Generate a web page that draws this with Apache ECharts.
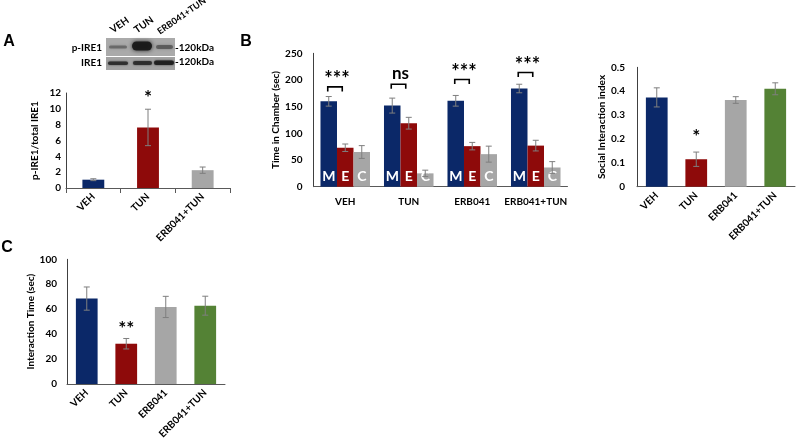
<!DOCTYPE html>
<html><head><meta charset="utf-8">
<script src="https://cdn.jsdelivr.net/npm/echarts@6/dist/echarts.min.js"></script>
<style>html,body{margin:0;padding:0;background:#fff}#c{width:800px;height:445px}</style>
</head><body><div id="c"></div>
<script>
// ---- Data ----
const blotLanes = ['VEH', 'TUN', 'ERB041+TUN'];
const blotRows = ['p-IRE1', 'IRE1'];
const blotSize = '120kDa';

const aCategories = ['VEH', 'TUN', 'ERB041+TUN'];
const aValues = [1.05, 7.65, 2.25];
const aErrors = [0.12, 2.3, 0.4];
const aStarY = [null, 11.4, null];
const aStars = ['', '*', ''];
const aTicks = [0, 2, 4, 6, 8, 10, 12];

const bCategories = ['VEH', 'TUN', 'ERB041', 'ERB041+TUN'];
const bM = [160, 152, 161, 184];
const bMErr = [9, 14, 10, 8];
const bE = [73, 119, 76, 77];
const bEErr = [7, 11, 7, 10];
const bC = [65, 25, 61, 36];
const bCErr = [12, 6, 15, 11];
const bBarLabels = ['M', 'E', 'C'];
const bSig = ['***', 'ns', '***', '***'];
const bBracketY = [187, 192, 201, 214];
const bSigY = [201, 212, 214, 227];

const sCategories = ['VEH', 'TUN', 'ERB041', 'ERB041+TUN'];
const sValues = [0.374, 0.115, 0.363, 0.41];
const sErrors = [0.04, 0.03, 0.014, 0.025];
const sStarY = [null, 0.21, null, null];
const sStars = ['', '*', '', ''];

const cCategories = ['VEH', 'TUN', 'ERB041', 'ERB041+TUN'];
const cValues = [68.5, 32.3, 61.8, 62.8];
const cErrors = [9.3, 4.2, 8.5, 7.6];
const cStarY = [null, 44, null, null];
const cStars = ['', '**', '', ''];

// ---- Style ----
const NAVY = '#0b2868', RED = '#8e0a0a', GRAY = '#a6a6a6', GREEN = '#548235';
const FONT = 'Lato';
const ERRC = '#7f7f7f';

function errSeries(gridIdx, values, errors, offsetFn) {
  return {
    type: 'custom', xAxisIndex: gridIdx, yAxisIndex: gridIdx, z: 5, silent: true,
    data: values.map((v, i) => [i, v - errors[i], v + errors[i]]),
    encode: { x: 0, y: [1, 2] },
    renderItem: function (params, api) {
      const c = api.value(0);
      const top = api.coord([c, api.value(2)]);
      const bot = api.coord([c, api.value(1)]);
      const band = api.size([1, 0])[0];
      const x = top[0] + (offsetFn ? offsetFn(band) : 0);
      const cap = 3;
      const st = { stroke: ERRC, lineWidth: 1 };
      return { type: 'group', children: [
        { type: 'line', shape: { x1: x, y1: top[1], x2: x, y2: bot[1] }, style: st },
        { type: 'line', shape: { x1: x - cap, y1: top[1], x2: x + cap, y2: top[1] }, style: st },
        { type: 'line', shape: { x1: x - cap, y1: bot[1], x2: x + cap, y2: bot[1] }, style: st }
      ]};
    }
  };
}
function textSeries(gridIdx, yVals, texts, sizeFn, offsetFn) {
  return {
    type: 'custom', xAxisIndex: gridIdx, yAxisIndex: gridIdx, z: 6, silent: true,
    data: yVals.map((v, i) => [i, v == null ? 0 : v]),
    encode: { x: 0, y: 1 },
    renderItem: function (params, api) {
      const t = texts[params.dataIndex];
      if (!t) return null;
      const p = api.coord([api.value(0), api.value(1)]);
      const band = api.size([1, 0])[0];
      const size = typeof sizeFn === 'function' ? sizeFn(t) : sizeFn;
      return { type: 'text', x: p[0] + (offsetFn ? offsetFn(band) : 0), y: p[1],
        style: { text: t, fill: '#000', font: 'bold ' + size + 'px ' + FONT, align: 'center', verticalAlign: 'middle' } };
    }
  };
}
function barSeries(gridIdx, values, colors, gap, extra) {
  return Object.assign({
    type: 'bar', xAxisIndex: gridIdx, yAxisIndex: gridIdx, barCategoryGap: gap, silent: true,
    data: values.map((v, i) => ({ value: v, itemStyle: { color: colors[i] } }))
  }, extra || {});
}
const axisText = { color: '#000', fontFamily: FONT, fontWeight: 'bold', fontSize: 10 };
function xAxisDef(gridIdx, cats, rotate, margin, ticks) {
  return {
    type: 'category', gridIndex: gridIdx, data: cats,
    axisLine: { lineStyle: { color: '#595959', width: 1 } },
    axisTick: { show: !!ticks, length: 5, lineStyle: { color: '#595959' } },
    axisLabel: Object.assign({ rotate: rotate, margin: margin, interval: 0 }, axisText)
  };
}
function yAxisDef(gridIdx, max, interval, name, nameGap, margin) {
  return {
    type: 'value', gridIndex: gridIdx, min: 0, max: max, interval: interval,
    name: name, nameLocation: 'middle', nameGap: nameGap,
    nameTextStyle: { color: '#000', fontFamily: FONT, fontWeight: 'bold', fontSize: 10 },
    axisLine: { show: true, lineStyle: { color: '#404040', width: 1 } },
    axisTick: { show: false }, splitLine: { show: false },
    axisLabel: Object.assign({ margin: margin }, axisText)
  };
}

const B_GAP = 0.22;
const bw = band => band * (1 - B_GAP) / 3;
const bOff = k => band => (k - 1) * bw(band);

const chart = echarts.init(document.getElementById('c'));

// western blot graphic
const bx0 = 106, bx1 = 175;
function band(x, y, w, h, color, blur) {
  return { type: 'rect', shape: { x: x, y: y, width: w, height: h, r: h / 2 },
    style: { fill: color, shadowBlur: blur, shadowColor: color } };
}
const laneX = [108, 131, 154];
const blot = {
  type: 'group', children: [
    { type: 'rect', shape: { x: bx0, y: 38, width: bx1 - bx0, height: 18 }, style: { fill: '#aaaaaa' } },
    { type: 'rect', shape: { x: bx0, y: 57, width: bx1 - bx0, height: 13 }, style: { fill: '#a3a3a3' } },
    band(laneX[0] + 1, 45.5, 18, 3, 'rgba(70,70,70,0.55)', 3),
    band(laneX[1] + 1, 41.5, 20, 9, 'rgba(25,25,25,0.95)', 4),
    band(laneX[2] + 2, 45, 17, 4, 'rgba(60,60,60,0.6)', 3),
    band(laneX[0], 61.5, 20, 3.5, 'rgba(40,40,40,0.85)', 2),
    band(laneX[1] + 2, 61, 19, 4, 'rgba(40,40,40,0.85)', 2),
    band(laneX[2], 60.5, 20, 4.5, 'rgba(30,30,30,0.9)', 2)
  ]
};
const graphics = [
  blot,
  { type: 'text', x: 9, y: 42, style: { text: 'A', font: 'bold 16px "Liberation Sans"', fill: '#000', align: 'center', verticalAlign: 'middle' } },
  { type: 'text', x: 246, y: 42, style: { text: 'B', font: 'bold 16px "Liberation Sans"', fill: '#000', align: 'center', verticalAlign: 'middle' } },
  { type: 'text', x: 7, y: 248, style: { text: 'C', font: 'bold 16px "Liberation Sans"', fill: '#000', align: 'center', verticalAlign: 'middle' } },
  { type: 'text', x: 102, y: 47.5, style: { text: blotRows[0], font: 'bold 10px ' + FONT, fill: '#000', align: 'right', verticalAlign: 'middle' } },
  { type: 'text', x: 102, y: 63, style: { text: blotRows[1], font: 'bold 10px ' + FONT, fill: '#000', align: 'right', verticalAlign: 'middle' } },
  { type: 'text', x: 175, y: 47.5, style: { text: '-' + blotSize, font: 'bold 10px ' + FONT, fill: '#000', align: 'left', verticalAlign: 'middle' } },
  { type: 'text', x: 175, y: 62, style: { text: '-' + blotSize, font: 'bold 10px ' + FONT, fill: '#000', align: 'left', verticalAlign: 'middle' } }
];
const laneLabelPos = [[114, 35], [138, 35], [161, 36]];
const laneLabelSize = [10, 10, 9];
blotLanes.forEach((t, i) => {
  graphics.push({ type: 'text', x: laneLabelPos[i][0], y: laneLabelPos[i][1], rotation: 35 * Math.PI / 180,
    style: { text: t, font: 'bold ' + laneLabelSize[i] + 'px ' + FONT, fill: '#000', align: 'left', verticalAlign: 'bottom' } });
});

const option = {
  animation: false,
  backgroundColor: '#fff',
  graphic: graphics,
  grid: [
    { left: 66, top: 93, width: 164, height: 95 },
    { left: 313.5, top: 53.3, width: 254, height: 133.4 },
    { left: 637, top: 67.3, width: 158, height: 119.4 },
    { left: 67, top: 259.3, width: 158, height: 124.7 }
  ],
  xAxis: [
    xAxisDef(0, aCategories, 45, 7, true),
    xAxisDef(1, bCategories, 0, 10, false),
    xAxisDef(2, sCategories, 45, 7, false),
    xAxisDef(3, cCategories, 45, 7, false)
  ],
  yAxis: [
    yAxisDef(0, 12, 2, 'p-IRE1/total IRE1', 26, 5),
    yAxisDef(1, 250, 50, 'Time in Chamber (sec)', 31, 11),
    yAxisDef(2, 0.5, 0.1, 'Social Interaction index', 28, 12),
    yAxisDef(3, 100, 20, 'Interaction Time (sec)', 30, 10)
  ],
  series: [
    barSeries(0, aValues, [NAVY, RED, GRAY], '60%'),
    errSeries(0, aValues, aErrors),
    textSeries(0, aStarY, aStars, 19),

    barSeries(1, bM, bM.map(() => NAVY), '22%', { barGap: 0, label: { show: true, position: 'insideBottom', distance: 3, formatter: bBarLabels[0], color: '#fff', fontFamily: FONT, fontWeight: 'bold', fontSize: 14 } }),
    barSeries(1, bE, bE.map(() => RED), '22%', { barGap: 0, label: { show: true, position: 'insideBottom', distance: 3, formatter: bBarLabels[1], color: '#fff', fontFamily: FONT, fontWeight: 'bold', fontSize: 14 } }),
    barSeries(1, bC, bC.map(() => GRAY), '22%', { barGap: 0, label: { show: true, position: 'insideBottom', distance: 3, formatter: bBarLabels[2], color: '#fff', fontFamily: FONT, fontWeight: 'bold', fontSize: 14 } }),
    errSeries(1, bM, bMErr, bOff(0)),
    errSeries(1, bE, bEErr, bOff(1)),
    errSeries(1, bC, bCErr, bOff(2)),
    {
      type: 'custom', xAxisIndex: 1, yAxisIndex: 1, z: 6, silent: true,
      data: bBracketY.map((v, i) => [i, v]), encode: { x: 0, y: 1 },
      renderItem: function (params, api) {
        const p = api.coord([api.value(0), api.value(1)]);
        const b = api.size([1, 0])[0];
        const x1 = p[0] - bw(b) - 1, x2 = p[0] - 3;
        return { type: 'polyline', shape: { points: [[x1, p[1] + 4.5], [x1, p[1]], [x2, p[1]], [x2, p[1] + 4.5]] },
          style: { stroke: '#000', lineWidth: 1.6, fill: null } };
      }
    },
    textSeries(1, bSigY, bSig, t => (t === 'ns' ? 17 : 20), band => -bw(band) / 2),

    barSeries(2, sValues, [NAVY, RED, GRAY, GREEN], '45%'),
    errSeries(2, sValues, sErrors),
    textSeries(2, sStarY, sStars, 19),

    barSeries(3, cValues, [NAVY, RED, GRAY, GREEN], '45%'),
    errSeries(3, cValues, cErrors),
    textSeries(3, cStarY, cStars, 19)
  ]
};
chart.setOption(option);
</script></body></html>
